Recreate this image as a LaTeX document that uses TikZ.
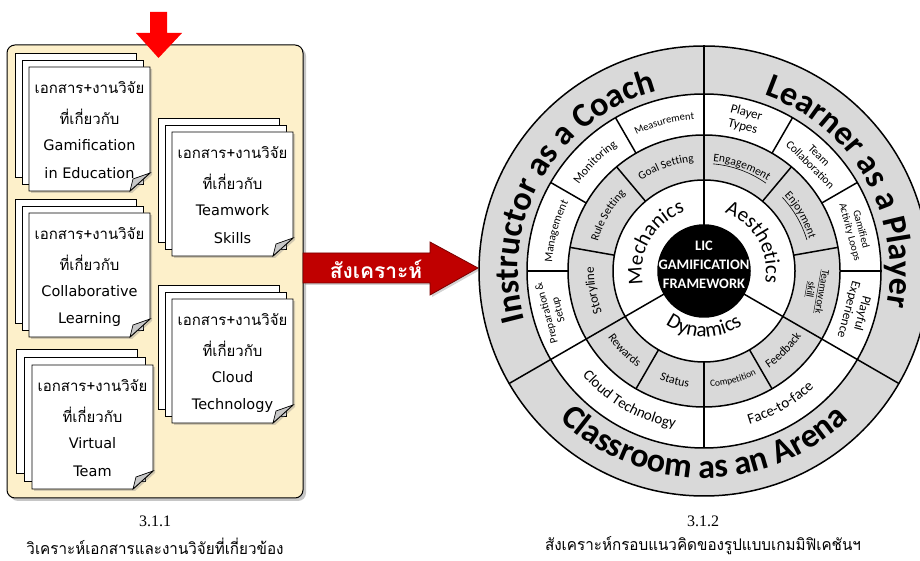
\documentclass[tikz,border=0pt]{standalone}
\usepackage{fontspec}
\usepackage{graphicx}
\usetikzlibrary{decorations.text,shadows}

\newfontfamily\thaifont[Script=Thai]{Loma}
\newfontfamily\wheelfont{Carlito}
\newfontfamily\latinsans{DejaVu Sans}
\newfontfamily\numserif{Liberation Serif}

\definecolor{ringgray}{RGB}{217,217,217}
\definecolor{panelbeige}{RGB}{253,240,202}
\definecolor{arrowred}{RGB}{192,0,0}
\definecolor{arrowdark}{RGB}{120,0,0}
\definecolor{arrowtop}{RGB}{255,0,0}
\definecolor{foldgray}{RGB}{200,200,200}

\tikzset{
  wl/.style={line width=1.5pt, draw=black},
  sheet/.style={draw=black, line width=0.9pt, fill=white},
  fold/.style={draw=black, line width=0.7pt, fill=foldgray},
  doctext/.style={inner sep=0pt, anchor=center},
  thailine/.style={doctext, font=\thaifont\fontsize{15}{15}\selectfont},
  latline/.style={doctext, font=\latinsans\fontsize{14.5}{15}\selectfont},
  cellnote/.style={inner sep=0pt, align=center, font=\wheelfont\fontsize{#1}{#1}\selectfont},
  captext/.style={inner sep=0pt, font=\thaifont\fontsize{16}{16}\selectfont},
  capnum/.style={inner sep=0pt, font=\numserif\fontsize{16}{16}\selectfont},
}

% text set along an arc of the wheel: radius, start angle, end angle, font, text
\newcommand\arctext[5]{%
  \path[decorate,decoration={text along path,text align=center,
    text={|\wheelfont#4|#5}}]
    (#2:#1) arc[start angle=#2,end angle=#3,radius=#1];}

% a stack of three sheets: name, left x, top y, offset, two Latin lines
\newcommand\docstack[6]{%
  \draw[sheet] ({#2-2*#4},{#3+2*#4}) rectangle ++(121,-124);
  \draw[sheet] ({#2-#4},{#3+#4}) rectangle ++(121,-124);
  \draw[sheet, drop shadow={shadow xshift=2pt, shadow yshift=-2pt, opacity=0.35}]
    (#2,#3) -- ++(121,0) -- ++(0,-106) -- ++(-20,-18) -- ++(-101,0) -- cycle;
  \draw[fold] ({#2+121},{#3-106}) -- ++(-17,-6) -- ++(-3,-12) -- cycle;
  \node[thailine] (#1-a) at ({#2+60.5},{#3-21}) {เอกสาร+งานวิจัย};
  \node[thailine] (#1-b) at ({#2+60.5},{#3-49.5}) {ที่เกี่ยวกับ};
  \node[latline] (#1-c) at ({#2+60.5},{#3-78}) {#5};
  \node[latline] (#1-d) at ({#2+60.5},{#3-106.5}) {#6};
}

\begin{document}
\begin{tikzpicture}[x=1pt,y=1pt]
\useasboundingbox (0,0) rectangle (920,561);
\clip (0,0) rectangle (920,561);

% ---------- left panel: literature review ----------
\draw[fill=panelbeige, draw=black, line width=1pt, rounded corners=8pt,
      drop shadow={shadow xshift=3pt, shadow yshift=-3pt, opacity=0.45}]
  (7,63) rectangle (303,516);

\fill[arrowtop] (150,549) -- (167,549) -- (167,528) -- (182,528)
  -- (158.5,503) -- (136,528) -- (150,528) -- cycle;

\docstack{gam}{29}{494}{7}{Gamification}{in Education}
\docstack{tws}{172}{429}{7}{Teamwork}{Skills}
\docstack{col}{29}{348}{7}{Collaborative}{Learning}
\docstack{cld}{172}{262}{7}{Cloud}{Technology}
\docstack{vir}{32}{196}{8}{Virtual}{Team}

% ---------- synthesis arrow ----------
\draw[fill=arrowred, draw=arrowdark, line width=0.8pt,
      drop shadow={shadow xshift=2pt, shadow yshift=-2pt, opacity=0.35}]
  (303,308) -- (430,308) -- (430,319) -- (478,293) -- (430,266)
  -- (430,278) -- (303,278) -- cycle;
\node[text=white, inner sep=0pt, font=\thaifont\bfseries\fontsize{21}{21}\selectfont]
  (synth) at (376,292) {สังเคราะห์};

% ---------- framework wheel ----------
\begin{scope}[shift={(704,290)}]
  \fill[ringgray] (0,0) circle[radius=225];
  \fill[white] (0,0) circle[radius=177];
  \fill[ringgray] (0,0) circle[radius=136];
  \fill[white] (0,0) circle[radius=91];
  \fill[black] (0,0) circle[radius=46];
  \foreach \r in {225,177,136,91,46} \draw[wl] (0,0) circle[radius=\r];
  \foreach \a in {90,210,330} \draw[wl] (\a:46) -- (\a:225);
  \foreach \a in {130,170,240,270,300,10,50} \draw[wl] (\a:91) -- (\a:136);
  \foreach \a in {120,150,180,270,0,30,60} \draw[wl] (\a:136) -- (\a:177);

  \node[text=white, align=center, inner sep=0pt,
        font=\wheelfont\bfseries\fontsize{14.5}{19}\selectfont]
    (hub) at (0,6) {LIC\\GAMIFICATION\\FRAMEWORK};

  % outer roles
  \arctext{186}{210}{90}{\bfseries\fontsize{34}{34}\selectfont}{Instructor as a Coach}
  \arctext{186}{90}{-30}{\bfseries\fontsize{34}{34}\selectfont}{Learner as a Player}
  \arctext{207}{210}{330}{\bfseries\fontsize{34}{34}\selectfont}{Classroom as an Arena}

  % core components
  \arctext{62}{210}{90}{\fontsize{21}{21}\selectfont}{Mechanics}
  \arctext{62}{90}{-30}{\fontsize{21}{21}\selectfont}{Aesthetics}
  \arctext{66}{210}{330}{\fontsize{21}{21}\selectfont}{Dynamics}

  % second ring
  \arctext{110}{130}{90}{\fontsize{11.5}{11.5}\selectfont}{Goal Setting}
  \arctext{110}{170}{130}{\fontsize{11.5}{11.5}\selectfont}{Rule Setting}
  \arctext{110}{210}{170}{\fontsize{13}{13}\selectfont}{Storyline}
  \arctext{110}{90}{50}{\fontsize{11.5}{11.5}\selectfont}{Engagement}
  \arctext{110}{50}{10}{\fontsize{11.5}{11.5}\selectfont}{Enjoyment}
  \draw[line width=0.6pt] (85.2:107.5) arc[start angle=85.2, end angle=54.8, radius=107.5];
  \draw[line width=0.6pt] (43.2:107.5) arc[start angle=43.2, end angle=16.8, radius=107.5];
  \node[cellnote=10.5, rotate=-100] (tskill) at (350:113.5)
    {\underline{Teamwork}\\[1pt]\underline{skill}};
  \arctext{117}{210}{240}{\fontsize{12}{12}\selectfont}{Rewards}
  \arctext{117}{240}{270}{\fontsize{12}{12}\selectfont}{Status}
  \arctext{116}{270}{300}{\fontsize{9.5}{9.5}\selectfont}{Competition}
  \arctext{117}{300}{330}{\fontsize{12}{12}\selectfont}{Feedback}

  % third ring
  \arctext{152}{120}{90}{\fontsize{10.5}{10.5}\selectfont}{Measurement}
  \arctext{152}{150}{120}{\fontsize{12}{12}\selectfont}{Monitoring}
  \arctext{152}{180}{150}{\fontsize{11.5}{11.5}\selectfont}{Management}
  \node[cellnote=11, rotate=105] (prep) at (195:156.5) {Preparation \&\\[1pt]Setup};
  \node[cellnote=13, rotate=-15] (ptypes) at (75:156.5) {Player\\[1pt]Types};
  \node[cellnote=11.5, rotate=-45] (tcollab) at (45:156.5) {Team\\[1pt]Collaboration};
  \node[cellnote=10.5, rotate=-75] (gloops) at (15:156.5) {Gamified\\[1pt]Activity Loops};
  \node[cellnote=13, rotate=-105] (playful) at (345:156.5) {Playful\\[1pt]Experience};
  \arctext{160}{210}{270}{\fontsize{15}{15}\selectfont}{Cloud Technology}
  \arctext{160}{270}{330}{\fontsize{15}{15}\selectfont}{Face-to-face}
\end{scope}

% ---------- captions ----------
\node[capnum] (capA) at (155,40) {3.1.1};
\node[captext] (capAt) at (155,15)
  {\resizebox{257pt}{\height}{วิเคราะห์เอกสารและงานวิจัยที่เกี่ยวข้อง}};
\node[capnum] (capB) at (703,40) {3.1.2};
\node[captext] (capBt) at (703,15)
  {\resizebox{316pt}{\height}{สังเคราะห์กรอบแนวคิดของรูปแบบเกมมิฟิเคชันฯ}};
\end{tikzpicture}
\end{document}
